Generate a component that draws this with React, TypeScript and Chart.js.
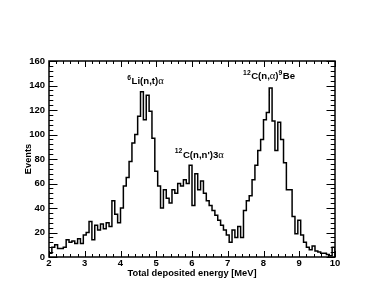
import React, { useEffect, useRef } from 'react';
import { Chart, registerables } from 'chart.js';

Chart.register(...registerables);

// Histogram: 100 bins of 0.08 MeV from 2 to 10 MeV
const BIN_START = 2;
const BIN_WIDTH = 0.08;
const counts: number[] = [
  3, 8, 10, 7, 7, 8, 14, 12, 13, 11,
  15, 11, 18, 20, 29, 14, 26, 22, 27, 23,
  28, 25, 46, 35, 28, 40, 58, 65, 78, 93,
  100, 115, 135, 112, 132, 119, 97, 70, 58, 40,
  55, 48, 44, 55, 52, 60, 58, 63, 60, 75,
  42, 68, 55, 62, 52, 46, 42, 38, 34, 30,
  26, 22, 18, 12, 22, 16, 25, 16, 38, 46,
  50, 63, 75, 87, 96, 112, 118, 138, 111, 87,
  110, 96, 77, 55, 55, 33, 19, 30, 18, 12,
  8, 6, 9, 5, 4, 3, 3, 2, 1, 8,
];

const X_MIN = 2;
const X_MAX = 10;
const Y_MIN = 0;
const Y_MAX = 160;
const X_TITLE = 'Total deposited energy [MeV]';
const Y_TITLE = 'Events';

type Part = { t: string; sup?: boolean; greek?: boolean };
const labelTexts: Part[][] = [
  [{ t: '6', sup: true }, { t: 'Li(n,t)' }, { t: 'α', greek: true }],
  [{ t: '12', sup: true }, { t: 'C(n,n\')3' }, { t: 'α', greek: true }],
  [{ t: '12', sup: true }, { t: 'C(n,' }, { t: 'α', greek: true }, { t: ')' }, { t: '9', sup: true }, { t: 'Be' }],
];
const labelX = [4.19, 5.52, 7.43];
const labelY = [141, 81, 145];

const FONT = '"Liberation Sans", Arial, Helvetica, sans-serif';

function partFont(p: Part) {
  if (p.sup) return `bold 6.8px ${FONT}`;
  if (p.greek) return `10.5px "Liberation Serif", "DejaVu Serif", serif`;
  return `bold 9.6px ${FONT}`;
}

const rootFrame = {
  id: 'rootFrame',
  afterDatasetsDraw(chart: any) {
    const { ctx, chartArea: a } = chart;
    const xs = chart.scales.x;
    const ys = chart.scales.y;
    ctx.save();
    ctx.strokeStyle = '#000';
    ctx.lineWidth = 1;
    ctx.beginPath();
    for (let k = 0; k <= 40; k++) {
      const v = X_MIN + k * 0.2;
      const px = Math.round(xs.getPixelForValue(v)) + 0.5;
      const len = k % 5 === 0 ? 6 : 3;
      ctx.moveTo(px, a.bottom);
      ctx.lineTo(px, a.bottom - len);
      ctx.moveTo(px, a.top);
      ctx.lineTo(px, a.top + len);
    }
    for (let k = 0; k <= 40; k++) {
      const v = Y_MIN + k * 4;
      const py = Math.round(ys.getPixelForValue(v)) + 0.5;
      const len = k % 5 === 0 ? 8.5 : 4.3;
      ctx.moveTo(a.left, py);
      ctx.lineTo(a.left + len, py);
      ctx.moveTo(a.right, py);
      ctx.lineTo(a.right - len, py);
    }
    ctx.stroke();
    ctx.lineWidth = 1.5;
    ctx.strokeRect(a.left, a.top, a.right - a.left, a.bottom - a.top);

    // annotations
    ctx.fillStyle = '#000';
    ctx.textBaseline = 'alphabetic';
    ctx.textAlign = 'left';
    labelTexts.forEach((parts, i) => {
      let cx = xs.getPixelForValue(labelX[i]);
      const by = ys.getPixelForValue(labelY[i]);
      parts.forEach((p) => {
        ctx.font = partFont(p);
        ctx.fillText(p.t, cx, p.sup ? by - 4.5 : by);
        cx += ctx.measureText(p.t).width + (p.sup ? 0.5 : 0);
      });
    });
    ctx.restore();
  },
};

export default function App() {
  const ref = useRef<HTMLCanvasElement>(null);
  useEffect(() => {
    document.body.style.margin = '0';
    const canvas = ref.current;
    if (!canvas) return;
    const points: { x: number; y: number }[] = [{ x: BIN_START, y: 0 }];
    counts.forEach((c, i) => points.push({ x: BIN_START + i * BIN_WIDTH, y: c }));
    points.push({ x: BIN_START + counts.length * BIN_WIDTH, y: counts[counts.length - 1] });
    points.push({ x: BIN_START + counts.length * BIN_WIDTH, y: 0 });

    const tickFont = { family: FONT, size: 9.5, weight: 'bold' as const };
    const chart = new Chart(canvas, {
      type: 'line',
      data: {
        datasets: [
          {
            data: points,
            stepped: true,
            borderColor: '#000',
            borderWidth: 1.5,
            pointRadius: 0,
            fill: false,
          },
        ],
      },
      options: {
        animation: false,
        responsive: false,
        layout: { padding: { top: 61, right: 50, left: 0, bottom: 0 } },
        plugins: { legend: { display: false }, tooltip: { enabled: false } },
        scales: {
          x: {
            type: 'linear',
            min: X_MIN,
            max: X_MAX,
            ticks: { stepSize: 1, font: tickFont, color: '#000', padding: 1, maxRotation: 0, autoSkip: false },
            grid: { display: false, drawTicks: false },
            border: { display: false },
            title: { display: true, text: X_TITLE, color: '#000', font: { family: FONT, size: 9.3, weight: 'bold' }, padding: { top: 0, bottom: 19 } },
            afterFit: (s: any) => { s.height = 41; },
          },
          y: {
            type: 'linear',
            min: Y_MIN,
            max: Y_MAX,
            ticks: { stepSize: 20, font: tickFont, color: '#000', padding: 4, autoSkip: false },
            grid: { display: false, drawTicks: false },
            border: { display: false },
            title: { display: true, text: Y_TITLE, color: '#000', font: { family: FONT, size: 9.3, weight: 'bold' }, padding: { top: 23, bottom: 0 } },
            afterFit: (s: any) => { s.width = 49; },
          },
        },
      },
      plugins: [rootFrame],
    });
    return () => chart.destroy();
  }, []);
  return (
    <div style={{ width: 385, height: 298, background: '#fff' }}>
      <canvas ref={ref} width={385} height={298} style={{ display: 'block' }} />
    </div>
  );
}
